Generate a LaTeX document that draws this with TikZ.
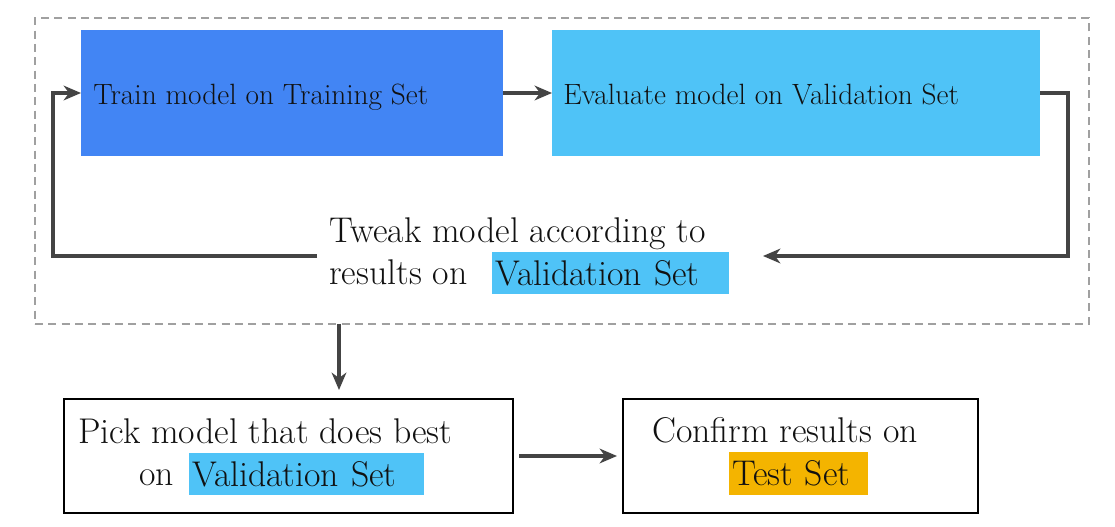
\documentclass[tikz,border=0pt]{standalone}
\usepackage{fontspec}
\usetikzlibrary{arrows.meta}
\definecolor{gblue}{HTML}{4285F4}
\definecolor{lblue}{HTML}{4FC3F7}
\definecolor{gyellow}{HTML}{F4B400}
\definecolor{arrc}{HTML}{444444}
\definecolor{dashc}{HTML}{A0A0A0}
\definecolor{txtc}{HTML}{111111}
\begin{document}
\begin{tikzpicture}[x=0.75pt,y=-0.75pt,
  filledbox/.style={fill=#1, draw=none, inner sep=0pt, outer sep=0pt},
  framedbox/.style={draw=black, line width=1.6pt, fill=white, inner sep=0pt, outer sep=0pt},
  groupbox/.style={draw=dashc, line width=1.1pt, dash pattern=on 6pt off 4pt, inner sep=0pt, outer sep=0pt},
  bigfont/.style={font=\fontsize{26.8}{30}\selectfont, text=txtc},
  hlbox/.style={bigfont, fill=#1, draw=none, inner ysep=0pt, inner xsep=2.25pt, outer sep=0pt, anchor=north west, align=left},
  bigtxt/.style={bigfont, inner sep=0pt, anchor=base west},
  smalltxt/.style={font=\fontsize{22}{26}\selectfont, text=txtc, inner sep=0pt, anchor=base west},
  conn/.style={draw=arrc, line width=2.6pt, -{Stealth[length=13pt,width=11pt,inset=4pt]}}
]
\useasboundingbox[fill=white] (0,0) rectangle (1115,527);

% dashed group
\node[groupbox, minimum width=1054*0.75pt, minimum height=306*0.75pt] (grp) at (562,171) {};

% top boxes
\node[filledbox=gblue, minimum width=422*0.75pt, minimum height=126*0.75pt] (train) at (292,93) {};
\node[filledbox=lblue, minimum width=488*0.75pt, minimum height=126*0.75pt] (eval) at (796,93) {};
\node[smalltxt] (traint) at (93,105) {Train model on Training Set};
\node[smalltxt] (evalt) at (563,105) {Evaluate model on Validation Set};

% tweak text
\node[bigtxt] (tw1) at (329,243) {Tweak model according to};
\node[bigtxt] (tw2) at (329,285) {results on};
\node[hlbox=lblue, text width=231*0.75pt, minimum height=42*0.75pt] (hv1) at (492,252) {Validation Set};

% bottom boxes
\node[framedbox, minimum width=449*0.75pt, minimum height=114*0.75pt] (pick) at (288.5,456) {};
\node[framedbox, minimum width=355*0.75pt, minimum height=114*0.75pt] (conf) at (800.5,456) {};
\node[bigtxt] (pk1) at (78,444) {Pick model that does best};
\node[bigtxt] (pk2) at (139,485) {on};
\node[hlbox=lblue, text width=229*0.75pt, minimum height=42*0.75pt] (hv2) at (189,453) {Validation Set};
\node[bigtxt] (cf1) at (652,443) {Confirm results on};
\node[hlbox=gyellow, text width=133*0.75pt, minimum height=43*0.75pt] (hts) at (729,452) {Test Set};

% coordinates
\coordinate (rc) at (1068,256);
\coordinate (twend) at (763,256);
\coordinate (lstart) at (317,256);
\coordinate (lc) at (53,256);
\coordinate (dstart) at (339,324);
\coordinate (dend) at (339,390);

% connectors
\draw[conn] (train.east) -- (eval.west);
\draw[conn] (eval.east) -| (rc) -- (twend);
\draw[conn] (lstart) -- (lc) |- (train.west);
\draw[conn] (dstart) -- (dend);
\draw[conn, shorten <=4.5pt, shorten >=4.5pt] (pick.east) -- (conf.west);
\end{tikzpicture}
\end{document}
